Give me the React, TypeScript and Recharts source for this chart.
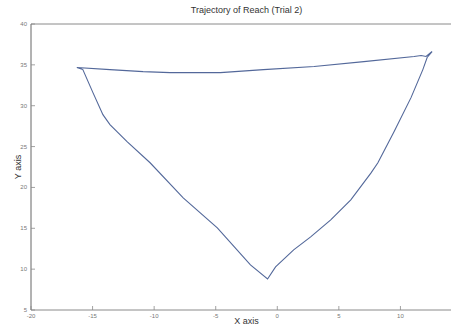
import { LineChart, Line, XAxis, YAxis, ReferenceLine, Label } from 'recharts'

// Hand trajectory in drawing order:
// top edge left -> right, down the right side, back up the left side.
const pathX = [
  -16.28, -13.59, -10.9, -8.7, -7.31, -4.62, -1.12, 2.99, 7.03, 11.11, 11.68, 12.08, 12.57, 12.17,
  11.82, 10.86, 9.48, 8.17, 7.6, 5.97, 4.34, 2.71, 1.33, -0.14, -0.79,
  -2.18, -4.87, -7.64, -10.33, -12.2, -13.59, -14.16, -14.97, -15.79, -16.28,
]
const pathY = [
  34.67, 34.42, 34.17, 34.05, 34.05, 34.05, 34.42, 34.79, 35.4, 36.02, 36.14, 36.02, 36.63, 35.9,
  34.42, 30.99, 26.82, 23.02, 21.75, 18.49, 16.03, 13.95, 12.36, 10.27, 8.8,
  10.52, 15.05, 18.73, 23.02, 25.6, 27.68, 28.91, 31.6, 34.42, 34.67,
]

// the axis runs to 15 but that end sits past the cropped right edge
const xTicks = [-20, -15, -10, -5, 0, 5, 10]
const yTicks = [5, 10, 15, 20, 25, 30, 35, 40]

const points = pathX.map((x, i) => ({ x, y: pathY[i] }))

const FONT = '"Liberation Sans", Arial, sans-serif'
const AXIS = '#8a8a8a'
const TICK_TEXT = '#777'

// MATLAB-style ticks point into the plot, so draw the little mark ourselves
const BottomTick = (props: any) => {
  const { x, y, payload } = props
  return (
    <g>
      <line x1={x} x2={x} y1={y - 3} y2={y - 7} stroke={AXIS} strokeWidth={0.8} />
      <text x={x} y={y + 5} textAnchor="middle" fontSize={6} fill={TICK_TEXT} fontFamily={FONT}>
        {payload.value}
      </text>
    </g>
  )
}

const TopTick = (props: any) => {
  const { x, y } = props
  return <line x1={x} x2={x} y1={y + 3} y2={y + 7} stroke={AXIS} strokeWidth={0.8} />
}

const LeftTick = (props: any) => {
  const { x, y, payload } = props
  return (
    <g>
      <line x1={x + 3} x2={x + 7} y1={y} y2={y} stroke={AXIS} strokeWidth={0.8} />
      <text x={x - 1} y={y + 2} textAnchor="end" fontSize={6} fill={TICK_TEXT} fontFamily={FONT}>
        {payload.value}
      </text>
    </g>
  )
}

export default function App() {
  return (
    <div style={{ position: 'absolute', left: 0, top: 0, width: 451, height: 327, overflow: 'hidden', background: '#fff' }}>
      <div
        style={{
          position: 'absolute',
          top: 5,
          left: 0,
          width: 493,
          textAlign: 'center',
          fontFamily: FONT,
          fontSize: 9,
          color: '#333',
        }}
      >
        Trajectory of Reach (Trial 2)
      </div>
      <LineChart
        width={480}
        height={327}
        data={points}
        margin={{ top: 24, right: 18, bottom: 0, left: 0 }}
      >
        <XAxis
          dataKey="x"
          type="number"
          domain={[-20, 15]}
          ticks={xTicks}
          interval={0}
          height={17}
          tickSize={0}
          tickMargin={3}
          tickLine={false}
          axisLine={{ stroke: AXIS, strokeWidth: 1 }}
          tick={<BottomTick />}
          allowDataOverflow
        >
          <Label value="X axis" position="insideBottom" offset={3} fontSize={9} fill="#333" fontFamily={FONT} />
        </XAxis>
        <XAxis
          xAxisId="top"
          orientation="top"
          dataKey="x"
          type="number"
          domain={[-20, 15]}
          ticks={xTicks}
          interval={0}
          height={0}
          tickSize={0}
          tickMargin={3}
          tickLine={false}
          axisLine={{ stroke: AXIS, strokeWidth: 1 }}
          tick={<TopTick />}
        />
        <YAxis
          dataKey="y"
          type="number"
          domain={[5, 40]}
          ticks={yTicks}
          interval={0}
          width={31}
          tickSize={0}
          tickMargin={3}
          tickLine={false}
          axisLine={{ stroke: '#666', strokeWidth: 1 }}
          tick={<LeftTick />}
          allowDataOverflow
        >
          <Label value="Y axis" position="center" angle={-90} dx={2} fontSize={9} fill="#333" fontFamily={FONT} />
        </YAxis>
        <ReferenceLine y={40} stroke={AXIS} strokeWidth={1} />
        <Line
          dataKey="y"
          type="linear"
          stroke="#53689a"
          strokeWidth={1.1}
          dot={false}
          isAnimationActive={false}
        />
      </LineChart>
    </div>
  )
}
